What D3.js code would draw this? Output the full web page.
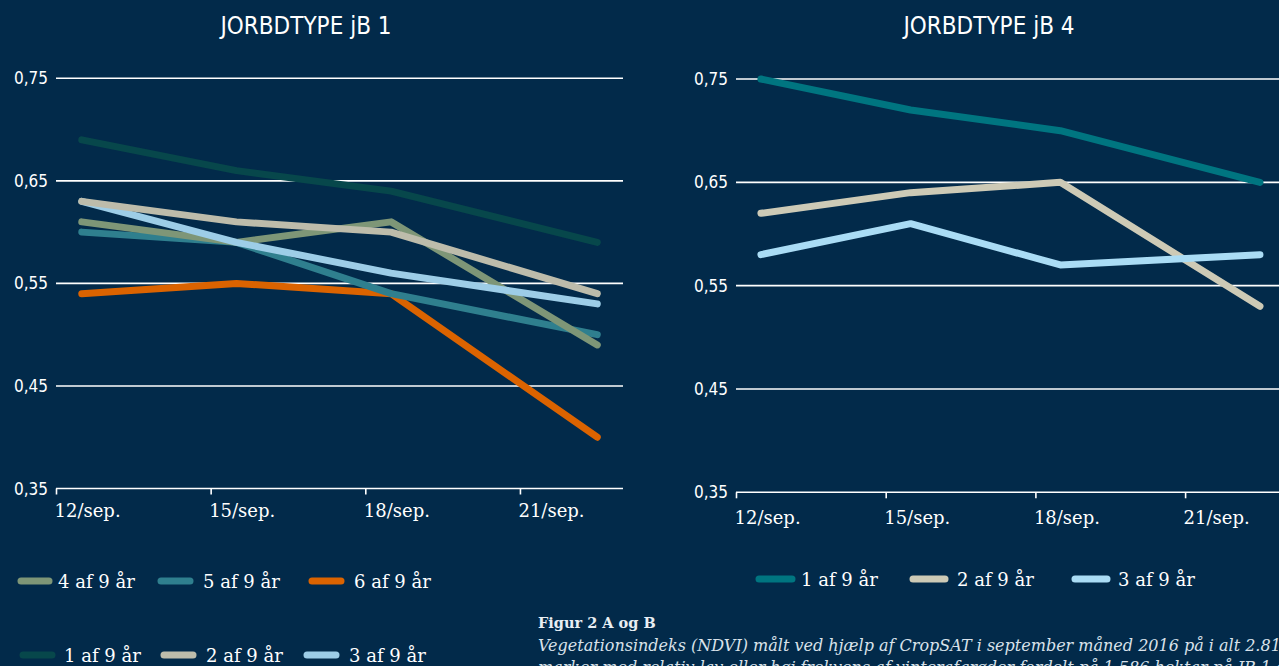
<!DOCTYPE html>
<html>
<head>
<meta charset="utf-8">
<script src="https://cdn.jsdelivr.net/npm/d3@7"></script>
<style>
  html, body { margin: 0; padding: 0; background: #022a4a; overflow: hidden; }
  svg { display: block; }
  .sans { font-family: "Liberation Sans Narrow", "DejaVu Sans Condensed", "Open Sans", sans-serif; font-stretch: condensed; }
  .serif { font-family: "DejaVu Serif", serif; }
</style>
</head>
<body>
<svg id="chart" width="1279" height="666"></svg>
<script>
// ---- data ----
const dates = ["2016-09-12T12:00", "2016-09-15T12:00", "2016-09-18T12:00", "2016-09-22T12:00"];
const tickDates = ["2016-09-12", "2016-09-15", "2016-09-18", "2016-09-21"];
const tickLabels = ["12/sep.", "15/sep.", "18/sep.", "21/sep."];
const yTicks = [0.35, 0.45, 0.55, 0.65, 0.75];

const jb1Names = ["1 af 9 år", "2 af 9 år", "3 af 9 år", "4 af 9 år", "5 af 9 år", "6 af 9 år"];
const jb1_1 = [0.69, 0.66, 0.64, 0.59];
const jb1_2 = [0.63, 0.61, 0.60, 0.54];
const jb1_3 = [0.63, 0.59, 0.56, 0.53];
const jb1_4 = [0.61, 0.59, 0.61, 0.49];
const jb1_5 = [0.60, 0.59, 0.54, 0.50];
const jb1_6 = [0.54, 0.55, 0.54, 0.40];
const jb1Colors = ["#07474b", "#bdbcab", "#9dcde7", "#7e9677", "#2f7f8e", "#db6300"];

const jb4Names = ["1 af 9 år", "2 af 9 år", "3 af 9 år"];
const jb4_1 = [0.75, 0.72, 0.70, 0.65];
const jb4_2 = [0.62, 0.64, 0.65, 0.53];
const jb4_3 = [0.58, 0.61, 0.57, 0.58];
const jb4Colors = ["#007580", "#cdcab6", "#aadcf5"];

const titles = ["JORBDTYPE jB 1", "JORBDTYPE jB 4"];
const captionTitle = "Figur 2 A og B";
const captionLines = [
  "Vegetationsindeks (NDVI) målt ved hjælp af CropSAT i september måned 2016 på i alt 2.812 hektar",
  "marker med relativ lav eller høj frekvens af vinterafgrøder fordelt på 1.586 hektar på JB 1 og 1.226 hektar på JB 4"
];

// ---- drawing ----
const svg = d3.select("#chart");
const fmt = v => d3.format(".2f")(v).replace(".", ",");
const parse = d3.isoParse;

function drawPanel(cfg) {
  const x = d3.scaleTime()
    .domain([parse("2016-09-12"), parse("2016-09-23")])
    .range([cfg.x0, cfg.x0 + cfg.dayW * 11]);
  const y = d3.scaleLinear().domain([0.35, 0.75]).range([cfg.yBottom, cfg.yTop]);
  const g = svg.append("g");

  // title
  g.append("text").attr("class", "sans")
    .attr("x", cfg.titleX).attr("y", 34)
    .attr("text-anchor", "middle").attr("fill", "#ffffff")
    .attr("font-size", 24).text(cfg.title);

  // gridlines
  g.selectAll(".grid").data(yTicks.slice(1)).join("line")
    .attr("x1", cfg.x0).attr("x2", cfg.gridEnd)
    .attr("y1", d => y(d)).attr("y2", d => y(d))
    .attr("stroke", "#ffffff").attr("stroke-width", 1.6);

  // y labels
  g.selectAll(".yl").data(yTicks).join("text").attr("class", "sans")
    .attr("x", cfg.x0 - 8).attr("y", d => y(d) + 6)
    .attr("text-anchor", "end").attr("fill", "#ffffff")
    .attr("font-size", 17).text(fmt);

  // x axis
  const axis = d3.axisBottom(x)
    .tickValues(tickDates.map(parse))
    .tickSize(6).tickSizeOuter(0)
    .tickFormat((d, i) => tickLabels[i]);
  const ax = g.append("g").attr("transform", `translate(0,${y(0.35)})`).call(axis);
  ax.select(".domain").attr("stroke", "#ffffff").attr("stroke-width", 1.6)
    .attr("d", `M${cfg.x0},0H${cfg.gridEnd}`);
  ax.selectAll(".tick line").attr("stroke", "#ffffff").attr("stroke-width", 1.6)
    .attr("y1", 0).attr("y2", 6);
  ax.selectAll(".tick text").attr("class", "serif")
    .attr("fill", "#ffffff").attr("font-size", 18)
    .attr("text-anchor", "start").attr("dx", -2).attr("dy", 0)
    .attr("y", cfg.labelDy);

  // lines
  const line = d3.line().x((d, i) => x(parse(dates[i]))).y(d => y(d));
  cfg.series.forEach((s, k) => {
    g.append("path").datum(s)
      .attr("d", line).attr("fill", "none")
      .attr("stroke", cfg.colors[k]).attr("stroke-width", 7)
      .attr("stroke-linecap", "round").attr("stroke-linejoin", "round");
  });
}

function drawLegend(items) {
  items.forEach(it => {
    svg.append("line")
      .attr("x1", it.x + 3).attr("x2", it.x + it.w - 3)
      .attr("y1", it.y).attr("y2", it.y)
      .attr("stroke", it.color).attr("stroke-width", 7).attr("stroke-linecap", "round");
    svg.append("text").attr("class", "serif")
      .attr("x", it.x + it.w + it.gap).attr("y", it.y + 7)
      .attr("fill", "#ffffff").attr("font-size", 18).text(it.name);
  });
}

// Panel A
drawPanel({
  title: titles[0], titleX: 306, x0: 56, dayW: 51.55, gridEnd: 623,
  yTop: 78.3, yBottom: 488.5, labelDy: 28,
  series: [jb1_1, jb1_2, jb1_3, jb1_4, jb1_5, jb1_6].reverse(),
  colors: jb1Colors.slice().reverse()
});
// Panel B
drawPanel({
  title: titles[1], titleX: 989, x0: 736, dayW: 49.9, gridEnd: 1279,
  yTop: 79, yBottom: 492.3, labelDy: 32,
  series: [jb4_1, jb4_2, jb4_3],
  colors: jb4Colors
});

// Legends
drawLegend([
  { name: jb1Names[3], color: jb1Colors[3], x: 18, w: 34, gap: 6, y: 581 },
  { name: jb1Names[4], color: jb1Colors[4], x: 158, w: 35, gap: 10, y: 581 },
  { name: jb1Names[5], color: jb1Colors[5], x: 309, w: 35, gap: 10, y: 581 },
  { name: jb1Names[0], color: jb1Colors[0], x: 20, w: 35, gap: 9, y: 655 },
  { name: jb1Names[1], color: jb1Colors[1], x: 161, w: 35, gap: 10, y: 655 },
  { name: jb1Names[2], color: jb1Colors[2], x: 304, w: 35, gap: 10, y: 655 },
  { name: jb4Names[0], color: jb4Colors[0], x: 756, w: 39, gap: 6, y: 579 },
  { name: jb4Names[1], color: jb4Colors[1], x: 910, w: 38, gap: 9, y: 579 },
  { name: jb4Names[2], color: jb4Colors[2], x: 1072, w: 38, gap: 8, y: 579 }
]);

// Caption
svg.append("text").attr("class", "serif")
  .attr("x", 538).attr("y", 628).attr("fill", "#e8eef3")
  .attr("font-size", 14.5).attr("font-weight", "bold").text(captionTitle);
captionLines.forEach((t, i) => {
  svg.append("text").attr("class", "serif")
    .attr("x", 538).attr("y", 651 + i * 22).attr("fill", "#d9e2ea")
    .attr("font-size", 16).attr("font-style", "italic").text(t);
});
</script>
</body>
</html>
